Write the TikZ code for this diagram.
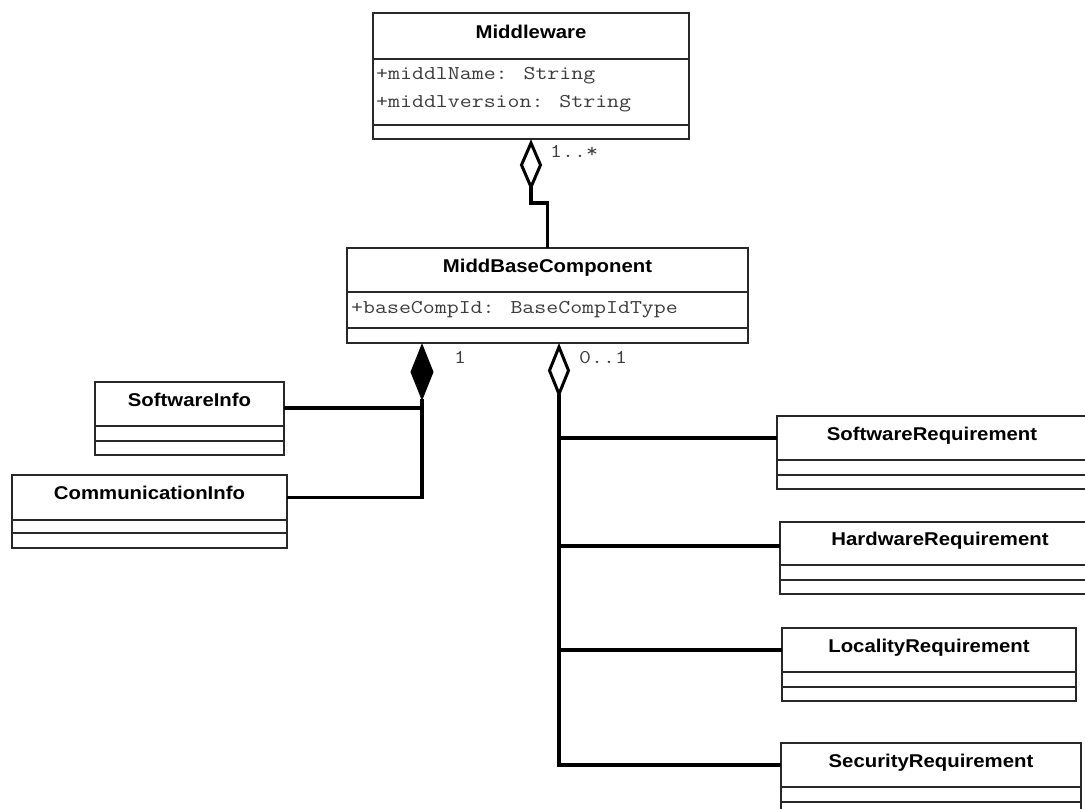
\documentclass[tikz,border=0pt]{standalone}
\usepackage{fontspec}
\usetikzlibrary{calc}

\newfontfamily\umlsans[FakeStretch=1.1]{Liberation Sans}
\newfontfamily\umlmono[FakeStretch=1.19]{Latin Modern Mono}

\definecolor{attrgray}{RGB}{60,60,60}
\definecolor{boxline}{RGB}{40,40,40}

\tikzset{
  clshead/.style={draw=boxline, line width=1.2pt, rectangle, anchor=north west,
    inner sep=0pt, outer sep=0pt, text height=13pt, text depth=9pt,
    font=\umlsans\bfseries\fontsize{18.5}{22}\selectfont},
  clspart/.style={draw=boxline, line width=1.2pt, rectangle, anchor=north west,
    inner sep=0pt, outer sep=0pt},
  attrtext/.style={anchor=base west, inner sep=0pt,
    font=\umlmono\fontsize{19.5}{24}\selectfont, text=attrgray},
  link/.style={line width=3.4pt, black, line join=miter},
  hollowdia/.style={line width=3pt, black, fill=white, line join=miter},
  soliddia/.style={line width=1pt, black, fill=black, line join=miter},
}

% class box: name, x, y, width, title height, attribute height, operation height, title
\newcommand{\umlclass}[8]{%
  \node[clshead, minimum width=#4pt, minimum height=#5pt] (#1) at (#2,#3) {#8};
  \node[clspart, minimum width=#4pt, minimum height=#6pt] (#1-attr) at (#1.south west) {};
  \node[clspart, minimum width=#4pt, minimum height=#7pt] (#1-ops) at (#1-attr.south west) {};
}

\begin{document}
\begin{tikzpicture}[x=1pt,y=-1pt]
  \useasboundingbox (0,0) rectangle (1085,809);
  \fill[white] (0,0) rectangle (1085,809);
  \clip (0,0) rectangle (1085,809);

  % classes
  \umlclass{mw}{373}{13}{316}{46}{66}{14}{Middleware}
  \umlclass{mbc}{347}{248}{401}{44}{36}{15}{MiddBaseComponent}
  \umlclass{si}{95}{382}{189}{44}{15}{14}{SoftwareInfo}
  \umlclass{ci}{12}{475}{275}{45}{13}{15}{CommunicationInfo}
  \umlclass{swr}{777}{416}{310}{44}{15}{14}{SoftwareRequirement}
  \umlclass{hwr}{780}{522}{320}{43}{15}{14}{HardwareRequirement}
  \umlclass{lr}{782}{628}{294}{44}{15}{14}{LocalityRequirement}
  \umlclass{secr}{781}{743}{300}{44}{15}{14}{SecurityRequirement}

  % attributes
  \node[attrtext] (mwa1) at (376,79) {+middlName: String};
  \node[attrtext] (mwa2) at (376,107) {+middlversion: String};
  \node[attrtext] (mbca1) at (351,313) {+baseCompId: BaseCompIdType};

  % multiplicities
  \node[attrtext] (m1) at (550,157) {1..*};
  \node[attrtext] (m2) at (454,363) {1};
  \node[attrtext] (m3) at (579,363) {0..1};

  % connector roots on the class borders
  \coordinate (mwRoot) at (mw-ops.south);
  \coordinate (compRoot) at ($(mbc-ops.south west)+(75,0)$);
  \coordinate (aggRoot) at ($(mbc-ops.south west)+(212,0)$);

  % Middleware aggregates MiddBaseComponent
  \draw[link] ($(mwRoot)+(0,48)$) -- ++(0,16) -| (mbc.north);
  \draw[hollowdia] ($(mwRoot)+(0,4)$) -- ++(9.5,22) -- ++(-9.5,22) -- ++(-9.5,-22) -- cycle;

  % composition to the info classes
  \draw[link] ($(compRoot)+(0,56)$) |- (ci.east);
  \draw[link] ($(compRoot |- si.east)+(0,4)$) -- ($(si.east)+(0,4)$);
  \draw[soliddia] ($(compRoot)+(0,1.5)$) -- ++(11,27.5) -- ++(-11,27.5) -- ++(-11,-27.5) -- cycle;

  % aggregation to the requirement classes
  \draw[link] ($(aggRoot)+(0,51)$) |- (secr.west);
  \draw[link] (aggRoot |- swr.west) -- (swr.west);
  \draw[link] ($(aggRoot |- hwr.west)+(0,2.5)$) -- ($(hwr.west)+(0,2.5)$);
  \draw[link] (aggRoot |- lr.west) -- (lr.west);
  \draw[hollowdia] ($(aggRoot)+(0,4)$) -- ++(9.5,23.5) -- ++(-9.5,23.5) -- ++(-9.5,-23.5) -- cycle;
\end{tikzpicture}
\end{document}
